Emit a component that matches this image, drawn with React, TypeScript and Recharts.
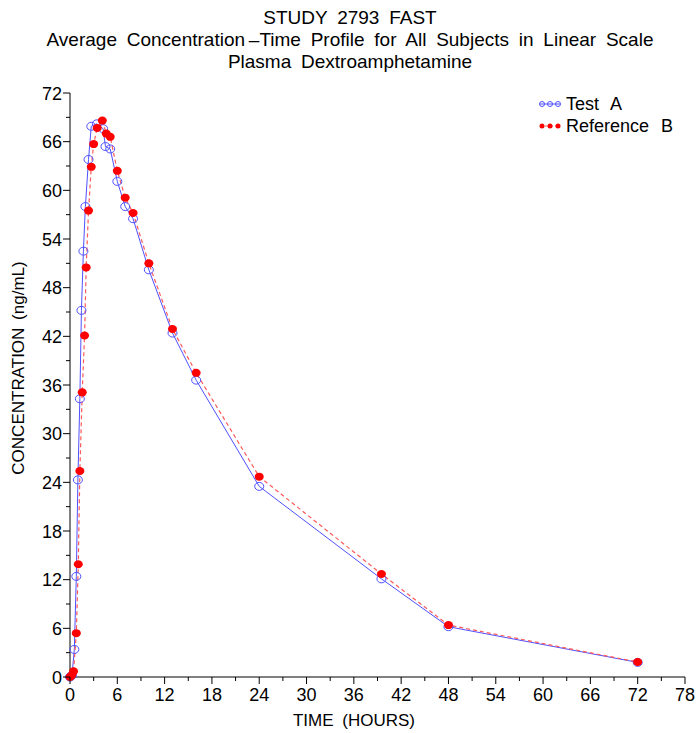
import { LineChart, Line, XAxis, YAxis } from "recharts";

// Test A (blue open circles)
const timeA = [0, 0.25, 0.55, 0.8, 1.0, 1.25, 1.45, 1.7, 1.95, 2.35, 2.7, 3.4, 4.2, 4.5, 5.1, 6, 7, 8, 10, 13, 16, 24, 39.5, 48, 72];
const concA = [0, 0.2, 3.4, 12.4, 24.3, 34.3, 45.2, 52.5, 58.0, 63.8, 67.9, 68.2, 67.6, 65.4, 65.1, 61.1, 58.0, 56.5, 50.2, 42.4, 36.6, 23.5, 12.1, 6.2, 1.8];

// Reference B (red filled dots)
const timeB = [0, 0.2, 0.45, 0.8, 1.05, 1.25, 1.55, 1.85, 2.05, 2.35, 2.7, 3.0, 3.45, 4.1, 4.6, 5.1, 6, 7, 8, 10, 13, 16, 24, 39.5, 48, 72];
const concB = [0, 0.2, 0.7, 5.4, 13.9, 25.4, 35.1, 42.1, 50.5, 57.5, 62.9, 65.7, 67.7, 68.6, 67.0, 66.6, 62.4, 59.1, 57.2, 51.0, 42.9, 37.5, 24.7, 12.7, 6.4, 1.85];

const xTicks = [0, 3, 6, 9, 12, 15, 18, 21, 24, 27, 30, 33, 36, 39, 42, 45, 48, 51, 54, 57, 60, 63, 66, 69, 72, 75, 78];
const yTicks = [0, 3, 6, 9, 12, 15, 18, 21, 24, 27, 30, 33, 36, 39, 42, 45, 48, 51, 54, 57, 60, 63, 66, 69, 72];

const titleLines = [
  "STUDY 2793 FAST",
  "Average Concentration\u2009\u2013Time Profile for All Subjects in Linear Scale",
  "Plasma Dextroamphetamine",
];
const seriesNames = ["Test A", "Reference B"];

const testA = timeA.map((t, i) => ({ t, c: concA[i] }));
const refB = timeB.map((t, i) => ({ t, c: concB[i] }));

const FONT = "'Liberation Sans', Arial, sans-serif";
const BLUE = "#5050ff";
const RED = "#ff0000";

const XTick = (props: any) => {
  const { x, y, payload } = props;
  const v = payload.value;
  const major = v % 6 === 0;
  return (
    <g>
      <line x1={x} x2={x} y1={y} y2={y + (major ? 7 : 4)} stroke="#000" />
      {major && (
        <text x={x} y={y + 24} textAnchor="middle" fontSize={18} fontFamily={FONT} fill="#000">
          {v}
        </text>
      )}
    </g>
  );
};

const YTick = (props: any) => {
  const { x, y, payload } = props;
  const v = payload.value;
  const major = v % 6 === 0;
  return (
    <g>
      <line x1={x} x2={x - (major ? 7 : 4)} y1={y} y2={y} stroke="#000" />
      {major && (
        <text x={x - 8} y={y + 6.5} textAnchor="end" fontSize={18} fontFamily={FONT} fill="#000">
          {v}
        </text>
      )}
    </g>
  );
};

const OpenDot = (props: any) => {
  const { cx, cy } = props;
  if (cx == null || cy == null) return null;
  return <ellipse cx={cx} cy={cy} rx={4.5} ry={4} fill="none" stroke={BLUE} strokeWidth={1} />;
};

const FilledDot = (props: any) => {
  const { cx, cy } = props;
  if (cx == null || cy == null) return null;
  return <ellipse cx={cx} cy={cy} rx={4.5} ry={4} fill={RED} stroke="none" />;
};

export default function App() {
  return (
    <div style={{ position: "absolute", left: 0, top: 0, width: 699, height: 733, background: "#fff" }}>
      <LineChart width={699} height={733} margin={{ top: 93, right: 14, bottom: 0, left: 0 }}>
        <XAxis
          dataKey="t"
          type="number"
          domain={[0, 78]}
          ticks={xTicks}
          interval={0}
          height={56}
          tickSize={0}
          tickMargin={0}
          tick={<XTick />}
          axisLine={{ stroke: "#000" }}
          allowDuplicatedCategory={false}
        />
        <YAxis
          type="number"
          domain={[0, 72]}
          ticks={yTicks}
          interval={0}
          width={70}
          tickSize={0}
          tickMargin={0}
          tick={<YTick />}
          axisLine={{ stroke: "#000" }}
        />
        <Line
          data={testA}
          dataKey="c"
          type="linear"
          stroke={BLUE}
          strokeWidth={1}
          dot={<OpenDot />}
          activeDot={false}
          isAnimationActive={false}
          name={seriesNames[0]}
        />
        <Line
          data={refB}
          dataKey="c"
          type="linear"
          stroke="#ff5a5a"
          strokeWidth={1.2}
          strokeDasharray="4 3"
          dot={<FilledDot />}
          activeDot={false}
          isAnimationActive={false}
          name={seriesNames[1]}
        />
      </LineChart>
      <svg
        width={699}
        height={733}
        style={{ position: "absolute", left: 0, top: 0, pointerEvents: "none" }}
        fontFamily={FONT}
      >
        {titleLines.map((s, i) => (
          <text key={i} x={350} y={24 + i * 22} textAnchor="middle" fontSize={19} wordSpacing={4.5} fill="#000">
            {s}
          </text>
        ))}
        <text x={354} y={726} textAnchor="middle" fontSize={17} wordSpacing={4} fill="#000">
          TIME (HOURS)
        </text>
        <text
          transform="translate(24,368) rotate(-90)"
          textAnchor="middle"
          fontSize={17}
          wordSpacing={3}
          fill="#000"
        >
          CONCENTRATION (ng/mL)
        </text>
        {/* legend */}
        <g>
          <line x1={540} x2={560} y1={104} y2={104} stroke={BLUE} />
          {[542, 550, 558].map((cx) => (
            <circle key={cx} cx={cx} cy={104} r={2.5} fill="none" stroke={BLUE} />
          ))}
          <text x={566} y={110} fontSize={18} wordSpacing={7} fill="#000">
            {seriesNames[0]}
          </text>
          <line x1={540} x2={560} y1={126} y2={126} stroke="#ff5a5a" strokeDasharray="3 2" />
          {[542, 550, 558].map((cx) => (
            <circle key={cx} cx={cx} cy={126} r={2.5} fill={RED} />
          ))}
          <text x={566} y={132} fontSize={18} wordSpacing={7} fill="#000">
            {seriesNames[1]}
          </text>
        </g>
      </svg>
    </div>
  );
}
